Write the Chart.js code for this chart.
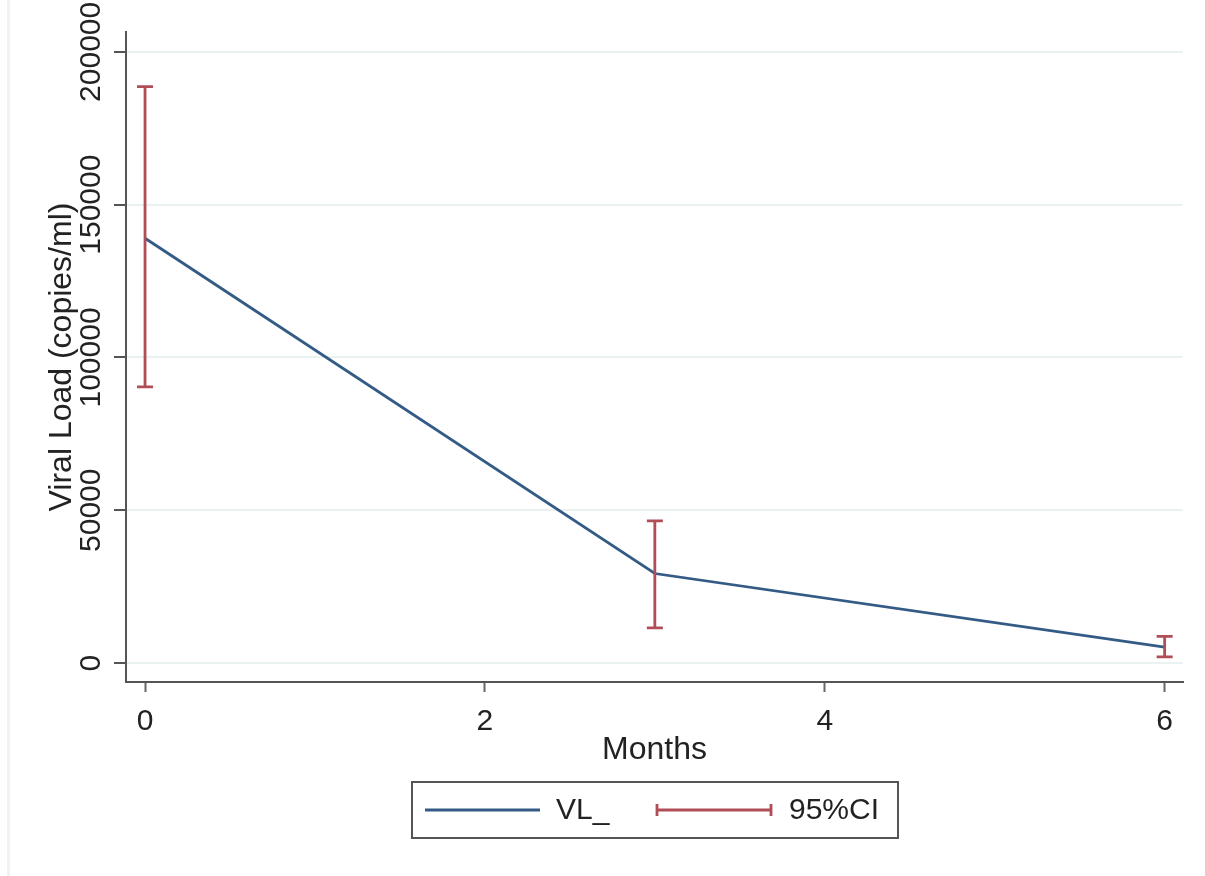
<!DOCTYPE html>
<html>
<head>
<meta charset="utf-8">
<title>Viral Load</title>
<script src="https://cdn.jsdelivr.net/npm/chart.js@4/dist/chart.umd.min.js"></script>
<style>
  html, body { margin: 0; padding: 0; background: #fff; }
  canvas { display: block; }
</style>
</head>
<body>
<canvas id="chart" width="1205" height="876"></canvas>
<script>
/* Viral load over months with 95% CI */

const months = [0, 3, 6];
const viralLoad = [139000, 29300, 5200];
const ciLow = [90400, 11500, 2000];
const ciHigh = [188600, 46500, 8700];

const xTicks = [0, 2, 4, 6];
const yTicks = [0, 50000, 100000, 150000, 200000];

const lineColor = "#335b85";
const ciColor = "#b04d56";
const font = "'Liberation Sans', Arial, sans-serif";

// error bars drawn with the chart's own scales
const errorBars = {
  id: "errorBars",
  afterDatasetsDraw(chart) {
    const { ctx, scales: { x, y } } = chart;
    ctx.save();
    ctx.strokeStyle = ciColor;
    ctx.lineWidth = 2.8;
    months.forEach((m, i) => {
      const px = x.getPixelForValue(m);
      const top = y.getPixelForValue(ciHigh[i]);
      const bot = y.getPixelForValue(ciLow[i]);
      ctx.beginPath();
      ctx.moveTo(px, top); ctx.lineTo(px, bot);
      ctx.moveTo(px - 8, top); ctx.lineTo(px + 8, top);
      ctx.moveTo(px - 8, bot); ctx.lineTo(px + 8, bot);
      ctx.stroke();
    });
    ctx.restore();
  }
};

// rotated y tick labels, Stata style
const yLabels = {
  id: "yLabels",
  afterDraw(chart) {
    const { ctx, scales: { y } } = chart;
    ctx.save();
    ctx.fillStyle = "#222";
    ctx.font = "30px " + font;
    ctx.textAlign = "center";
    ctx.textBaseline = "middle";
    yTicks.forEach(v => {
      const py = y.getPixelForValue(v);
      ctx.save();
      ctx.translate(92, py);
      ctx.rotate(-Math.PI / 2);
      ctx.fillText(String(v), 0, 0);
      ctx.restore();
    });
    ctx.restore();
  }
};

// boxed legend under the plot
const boxLegend = {
  id: "boxLegend",
  afterDraw(chart) {
    const { ctx } = chart;
    const bx = 412, by = 782, bw = 486, bh = 56, cy = by + bh / 2;
    ctx.save();
    ctx.fillStyle = "#fff";
    ctx.fillRect(bx, by, bw, bh);
    ctx.strokeStyle = "#555";
    ctx.lineWidth = 2;
    ctx.strokeRect(bx, by, bw, bh);

    ctx.lineWidth = 2.8;
    ctx.strokeStyle = lineColor;
    ctx.beginPath();
    ctx.moveTo(425, cy); ctx.lineTo(540, cy);
    ctx.stroke();

    ctx.strokeStyle = ciColor;
    ctx.beginPath();
    ctx.moveTo(657, cy); ctx.lineTo(771, cy);
    ctx.moveTo(657, cy - 6); ctx.lineTo(657, cy + 6);
    ctx.moveTo(771, cy - 6); ctx.lineTo(771, cy + 6);
    ctx.stroke();

    ctx.fillStyle = "#222";
    ctx.font = "30px " + font;
    ctx.textBaseline = "middle";
    ctx.textAlign = "left";
    ctx.fillText("VL_", 556, cy + 1);
    ctx.fillText("95%CI", 789, cy + 1);
    ctx.restore();
  }
};

// white background and faint frame on the left edge
const frame = {
  id: "frame",
  beforeDraw(chart) {
    const { ctx, width, height } = chart;
    ctx.save();
    ctx.fillStyle = "#fff";
    ctx.fillRect(0, 0, width, height);
    ctx.strokeStyle = "#edf5f3";
    ctx.lineWidth = 3;
    ctx.beginPath();
    ctx.moveTo(8.5, 0); ctx.lineTo(8.5, height);
    ctx.stroke();
    ctx.restore();
  }
};

new Chart(document.getElementById("chart"), {
  type: "line",
  data: {
    datasets: [{
      label: "VL_",
      data: months.map((m, i) => ({ x: m, y: viralLoad[i] })),
      borderColor: lineColor,
      borderWidth: 2.8,
      pointRadius: 0,
      tension: 0,
      fill: false
    }]
  },
  options: {
    responsive: false,
    animation: false,
    layout: { padding: { top: 32, right: 22, bottom: 107, left: 0 } },
    plugins: {
      legend: { display: false },
      tooltip: { enabled: false }
    },
    scales: {
      x: {
        type: "linear",
        min: -0.112,
        max: 6.108,
        afterBuildTicks: s => { s.ticks = xTicks.map(v => ({ value: v })); },
        afterFit: s => { s.height = 87; },
        grid: { drawOnChartArea: false, tickLength: 10, tickColor: "#666", tickWidth: 2 },
        border: { color: "#555", width: 2 },
        ticks: { font: { family: font, size: 30 }, color: "#222", padding: 12, maxRotation: 0 },
        title: { display: true, text: "Months", font: { family: font, size: 32 }, color: "#222", padding: { top: 0, bottom: 0 } }
      },
      y: {
        type: "linear",
        min: -6200,
        max: 206500,
        afterBuildTicks: s => { s.ticks = yTicks.map(v => ({ value: v })); },
        afterFit: s => { s.width = 126; },
        grid: { color: "#e9f1f1", lineWidth: 2, tickLength: 12, tickColor: "#555", tickWidth: 2 },
        border: { color: "#555", width: 2 },
        ticks: { display: false },
        title: { display: true, text: "Viral Load (copies/ml)", font: { family: font, size: 32 }, color: "#222", padding: { top: 43, bottom: 0 } }
      }
    }
  },
  plugins: [frame, errorBars, yLabels, boxLegend]
});
</script>
</body>
</html>
